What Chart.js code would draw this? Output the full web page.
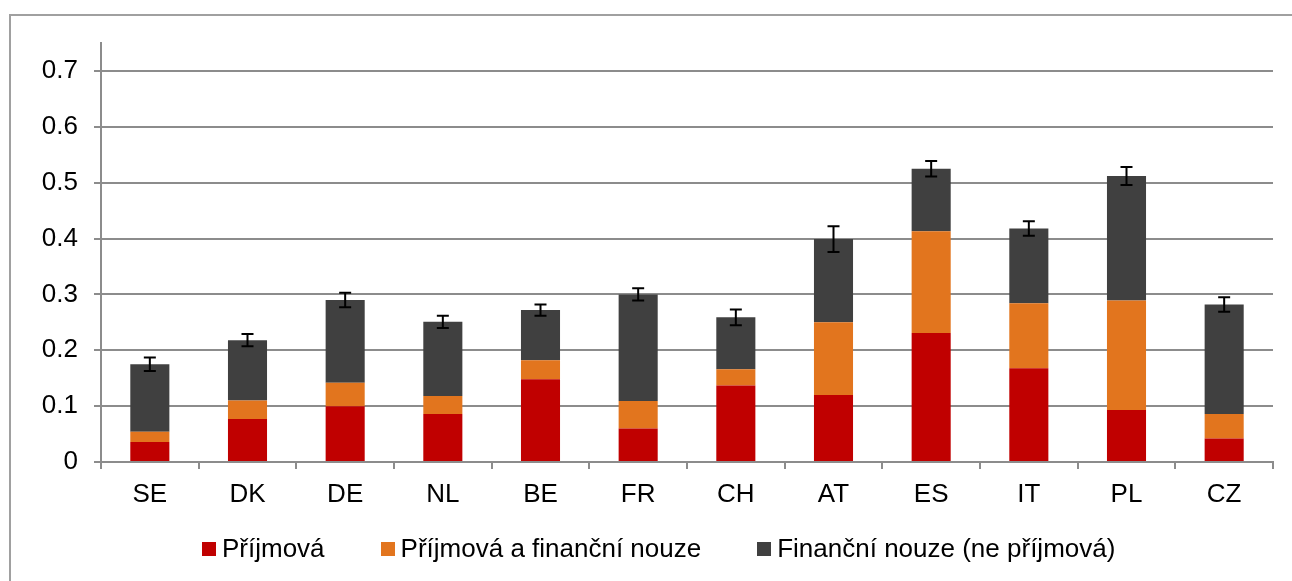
<!DOCTYPE html>
<html>
<head>
<meta charset="utf-8">
<script src="https://cdn.jsdelivr.net/npm/chart.js@4.4.1/dist/chart.umd.min.js"></script>
<style>
  html, body { margin: 0; padding: 0; background: #fff; }
  #wrap { position: relative; width: 1292px; height: 581px; overflow: hidden; }
  #frame { position: absolute; left: 9px; top: 14px; width: 1300px; height: 600px;
           border-left: 2px solid #a0a0a0; border-top: 2px solid #a0a0a0; }
  #legend { position: absolute; left: 202px; top: 533px; display: flex; align-items: center;
            font-family: "Liberation Sans", Arial, sans-serif; font-size: 26px; color: #000; }
  #legend .item { display: flex; align-items: center; margin-right: 56px; }
  #legend .box { width: 14px; height: 14px; margin-right: 6px; }
</style>
</head>
<body>
<div id="wrap">
  <div id="frame"></div>
  <canvas id="chart" width="1292" height="581"></canvas>
  <div id="legend"></div>
</div>
<script>
// values
const countries = ['SE', 'DK', 'DE', 'NL', 'BE', 'FR', 'CH', 'AT', 'ES', 'IT', 'PL', 'CZ'];
const prijmova = [0.036, 0.077, 0.100, 0.086, 0.148, 0.060, 0.137, 0.120, 0.231, 0.168, 0.093, 0.042];
const prijmovaNouze = [0.018, 0.033, 0.042, 0.032, 0.034, 0.049, 0.029, 0.130, 0.182, 0.116, 0.196, 0.044];
const financniNouze = [0.121, 0.108, 0.148, 0.133, 0.090, 0.191, 0.093, 0.149, 0.112, 0.134, 0.223, 0.196];
const errors = [0.012, 0.011, 0.013, 0.011, 0.010, 0.011, 0.014, 0.023, 0.014, 0.013, 0.016, 0.013];
const yTicks = [0, 0.1, 0.2, 0.3, 0.4, 0.5, 0.6, 0.7];

const gridColor = '#8c8c8c';
const font = { family: '"Liberation Sans", Arial, sans-serif', size: 26 };

// error bars on top of each stack
const errorBars = {
  id: 'errorBars',
  afterDatasetsDraw(chart) {
    const ctx = chart.ctx;
    const x = chart.scales.x, y = chart.scales.y;
    ctx.save();
    ctx.strokeStyle = '#000';
    ctx.lineWidth = 2;
    countries.forEach((c, i) => {
      const total = prijmova[i] + prijmovaNouze[i] + financniNouze[i];
      const px = x.getPixelForValue(i);
      const top = y.getPixelForValue(total + errors[i]);
      const bot = y.getPixelForValue(total - errors[i]);
      ctx.beginPath();
      ctx.moveTo(px, top); ctx.lineTo(px, bot);
      ctx.moveTo(px - 6, top); ctx.lineTo(px + 6, top);
      ctx.moveTo(px - 6, bot); ctx.lineTo(px + 6, bot);
      ctx.stroke();
    });
    ctx.restore();
  }
};

// legend as html, built from the datasets
const htmlLegend = {
  id: 'htmlLegend',
  afterUpdate(chart) {
    const el = document.getElementById('legend');
    el.innerHTML = '';
    chart.data.datasets.forEach(ds => {
      const item = document.createElement('div');
      item.className = 'item';
      const box = document.createElement('span');
      box.className = 'box';
      box.style.background = ds.backgroundColor;
      const txt = document.createElement('span');
      txt.textContent = ds.label;
      item.appendChild(box);
      item.appendChild(txt);
      el.appendChild(item);
    });
  }
};

new Chart(document.getElementById('chart'), {
  type: 'bar',
  data: {
    labels: countries,
    datasets: [
      { label: 'Příjmová', data: prijmova, backgroundColor: '#c00000' },
      { label: 'Příjmová a finanční nouze', data: prijmovaNouze, backgroundColor: '#e2751e' },
      { label: 'Finanční nouze (ne příjmová)', data: financniNouze, backgroundColor: '#404040' },
    ],
  },
  options: {
    responsive: false,
    animation: false,
    layout: { padding: { top: 43, right: 19, left: 0, bottom: 0 } },
    datasets: { bar: { barPercentage: 0.4, categoryPercentage: 1 } },
    scales: {
      x: {
        stacked: true,
        grid: { display: true, drawOnChartArea: false, color: gridColor, lineWidth: 2, tickLength: 7 },
        border: { color: gridColor, width: 2 },
        ticks: { color: '#000', font: font, padding: 10 },
        afterFit(scale) { scale.height = 119; },
      },
      y: {
        stacked: true,
        min: 0,
        max: 0.75,
        afterBuildTicks(scale) { scale.ticks = yTicks.map(v => ({ value: v })); },
        grid: { color: gridColor, lineWidth: 2, tickLength: 7 },
        border: { color: gridColor, width: 2 },
        ticks: {
          color: '#000', font: font, padding: 16,
          callback: v => v === 0 ? '0' : v.toFixed(1),
        },
        afterFit(scale) { scale.width = 101; },
      },
    },
    plugins: {
      legend: { display: false },
      tooltip: { enabled: false },
    },
  },
  plugins: [errorBars, htmlLegend],
});
</script>
</body>
</html>
